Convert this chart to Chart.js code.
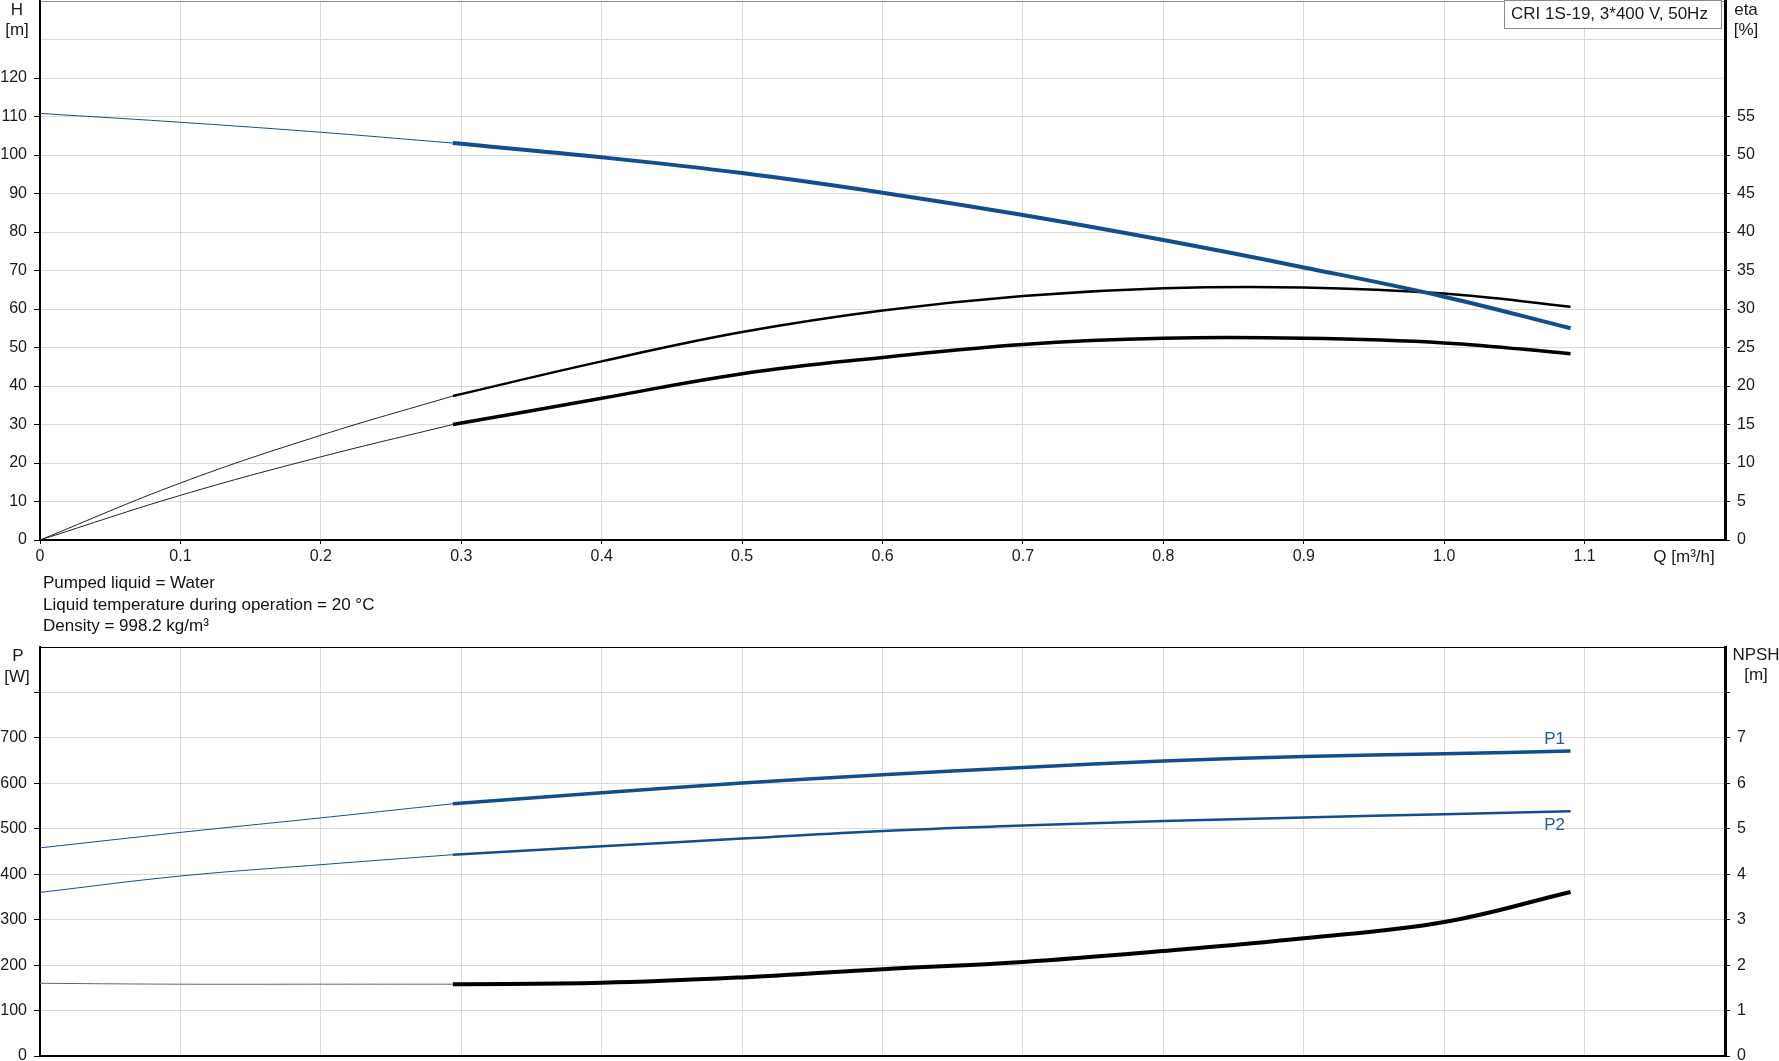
<!DOCTYPE html>
<html>
<head>
<meta charset="utf-8">
<script src="https://cdn.jsdelivr.net/npm/chart.js@4"></script>
<style>
  body { margin: 0; background: #fff; width: 1779px; height: 1061px; overflow: hidden; position: relative;
         font-family: "Liberation Sans", Arial, sans-serif; }
  #curves { position: absolute; left: 0; top: 0; }
  #power { position: absolute; left: 0; top: 646px; }
  #info { position: absolute; left: 43px; top: 572px; font-size: 17px; line-height: 21.5px; color: #111; }
</style>
</head>
<body>
<canvas id="curves" width="1779" height="580"></canvas>
<div id="info">Pumped liquid = Water<br>Liquid temperature during operation = 20 °C<br>Density = 998.2 kg/m³</div>
<canvas id="power" width="1779" height="415"></canvas>
<script>
// flow points: thin part (outside duty range) and thick part
const qThin = [0, 0.1, 0.2, 0.294];
const qDuty = [0.294, 0.4, 0.5, 0.6, 0.7, 0.8, 0.9, 1.0, 1.09];

// head [m]
const headThin = [110.8, 108.5, 105.9, 103.1];
const headDuty = [103.1, 99.4, 95.3, 90.2, 84.4, 77.9, 70.8, 63.2, 55.0];

// efficiencies [%]
const etaPumpThin = [0, 7.4, 13.6, 18.7];
const etaPumpDuty = [18.7, 23.2, 27.0, 29.8, 31.7, 32.7, 32.8, 32.0, 30.3];
const etaTotalThin = [0, 5.8, 10.8, 15.0];
const etaTotalDuty = [15.0, 18.4, 21.6, 23.7, 25.4, 26.2, 26.2, 25.6, 24.2];

// power [W]
const p1Thin = [458, 492, 524, 555];
const p1Duty = [555, 579.5, 600.7, 619, 635, 649, 659, 665, 671];
const p2Thin = [360, 396, 421, 443];
const p2Duty = [443, 461.5, 478.4, 495.2, 507, 517, 525, 532, 538.5];

// NPSH [m]
const npshThin = [1.60, 1.58, 1.58, 1.58];
const npshDuty = [1.58, 1.61, 1.73, 1.91, 2.07, 2.31, 2.59, 2.95, 3.61];

const BLUE = '#124d8e';
const GRID = '#d9d9d9';
const FONT = '"Liberation Sans", Arial, sans-serif';

Chart.defaults.font.family = FONT;
Chart.defaults.font.size = 16;
Chart.defaults.color = '#1a1a1a';

function pts(xs, ys) { return xs.map((x, i) => ({ x: x, y: ys[i] })); }

function curve(xs, ys, color, width, axis) {
  return {
    data: pts(xs, ys), borderColor: color, borderWidth: width, yAxisID: axis,
    pointRadius: 0, tension: 0.4, fill: false
  };
}

function textPlugin(drawFn) {
  return {
    id: 'extraText',
    afterDraw(chart) {
      const c = chart.ctx;
      c.save();
      c.font = '17px ' + FONT;
      c.fillStyle = '#1a1a1a';
      c.textBaseline = 'middle';
      c.textAlign = 'center';
      drawFn(chart, c);
      c.restore();
    }
  };
}

function noPad(s) { s.paddingTop = 0; s.paddingBottom = 0; s.paddingLeft = 0; s.paddingRight = 0; }

function xAxis(showLabels, height) {
  return {
    type: 'linear', min: 0, max: 1.2,
    ticks: {
      stepSize: 0.1, display: showLabels, padding: 3, maxRotation: 0, autoSkip: false,
      callback: v => (v > 1.15 ? '' : (v === 0 ? '0' : v.toFixed(1)))
    },
    grid: {
      color: GRID, drawTicks: showLabels, tickLength: 4,
      tickColor: ctx => (ctx.tick && ctx.tick.value < 1.15 ? '#000' : 'transparent')
    },
    border: { color: '#000', width: 2 },
    afterFit: s => { s.height = height; noPad(s); }
  };
}

function yAxis(pos, max, step, lastLabel, lastMark, width, onArea, topColor) {
  return {
    type: 'linear', position: pos, min: 0, max: max,
    ticks: {
      stepSize: step, padding: 7, autoSkip: false,
      callback: v => (v <= lastLabel ? v : '')
    },
    grid: {
      drawOnChartArea: onArea, tickLength: pos === 'left' ? 6 : 5,
      color: ctx => (ctx.tick && ctx.tick.value === max ? topColor : GRID),
      tickColor: ctx => (ctx.tick && ctx.tick.value <= lastMark ? '#000' : 'transparent')
    },
    border: { color: '#000', width: pos === 'left' ? 2 : 3 },
    afterFit: s => { s.width = width; noPad(s); }
  };
}

new Chart(document.getElementById('curves').getContext('2d'), {
  type: 'line',
  data: {
    datasets: [
      curve(qThin, headThin, BLUE, 1, 'y'),
      curve(qDuty, headDuty, BLUE, 4, 'y'),
      curve(qThin, etaPumpThin, '#222', 1, 'y1'),
      curve(qDuty, etaPumpDuty, '#000', 2.5, 'y1'),
      curve(qThin, etaTotalThin, '#222', 1, 'y1'),
      curve(qDuty, etaTotalDuty, '#000', 3.5, 'y1')
    ]
  },
  options: {
    responsive: false, animation: false,
    layout: { padding: { top: 1, left: 0, right: 0, bottom: 0 } },
    plugins: { legend: { display: false }, tooltip: { enabled: false } },
    scales: {
      x: xAxis(true, 40),
      y: yAxis('left', 140, 10, 120, 120, 40, true, '#8a8a8a'),
      y1: yAxis('right', 70, 5, 55, 55, 54, false, GRID)
    }
  },
  plugins: [textPlugin((chart, c) => {
    c.fillText('H', 17, 10);
    c.fillText('[m]', 17, 30);
    c.fillText('eta', 1746, 10);
    c.fillText('[%]', 1746, 30);
    c.fillText('Q [m³/h]', 1684, 557);
    // model box
    c.fillStyle = '#fff';
    c.fillRect(1504, 0, 217, 28);
    c.strokeStyle = '#8a8a8a';
    c.lineWidth = 1;
    c.strokeRect(1504.5, 0.5, 217, 28);
    c.fillStyle = '#1a1a1a';
    c.textAlign = 'left';
    c.fillText('CRI 1S-19, 3*400 V, 50Hz', 1511, 14);
  })]
});

new Chart(document.getElementById('power').getContext('2d'), {
  type: 'line',
  data: {
    datasets: [
      curve(qThin, p1Thin, BLUE, 1, 'y'),
      curve(qDuty, p1Duty, BLUE, 3.5, 'y'),
      curve(qThin, p2Thin, BLUE, 1, 'y'),
      curve(qDuty, p2Duty, BLUE, 2.5, 'y'),
      curve(qThin, npshThin, '#666', 1, 'y1'),
      curve(qDuty, npshDuty, '#000', 4, 'y1')
    ]
  },
  options: {
    responsive: false, animation: false,
    layout: { padding: { top: 1, left: 0, right: 0, bottom: 0 } },
    plugins: { legend: { display: false }, tooltip: { enabled: false } },
    scales: {
      x: xAxis(false, 5),
      y: yAxis('left', 900, 100, 700, 800, 40, true, '#000'),
      y1: yAxis('right', 9, 1, 7, 8, 54, false, GRID)
    }
  },
  plugins: [textPlugin((chart, c) => {
    c.fillText('P', 18, 10);
    c.fillText('[W]', 17, 31);
    c.fillText('NPSH', 1756, 9);
    c.fillText('[m]', 1756, 29);
    const sx = chart.scales.x, sy = chart.scales.y;
    const xEnd = sx.getPixelForValue(qDuty[qDuty.length - 1]);
    c.fillStyle = '#1f5a99';
    c.fillText('P1', xEnd - 16, sy.getPixelForValue(p1Duty[p1Duty.length - 1]) - 12);
    c.fillText('P2', xEnd - 16, sy.getPixelForValue(p2Duty[p2Duty.length - 1]) + 14);
  })]
});
</script>
</body>
</html>
